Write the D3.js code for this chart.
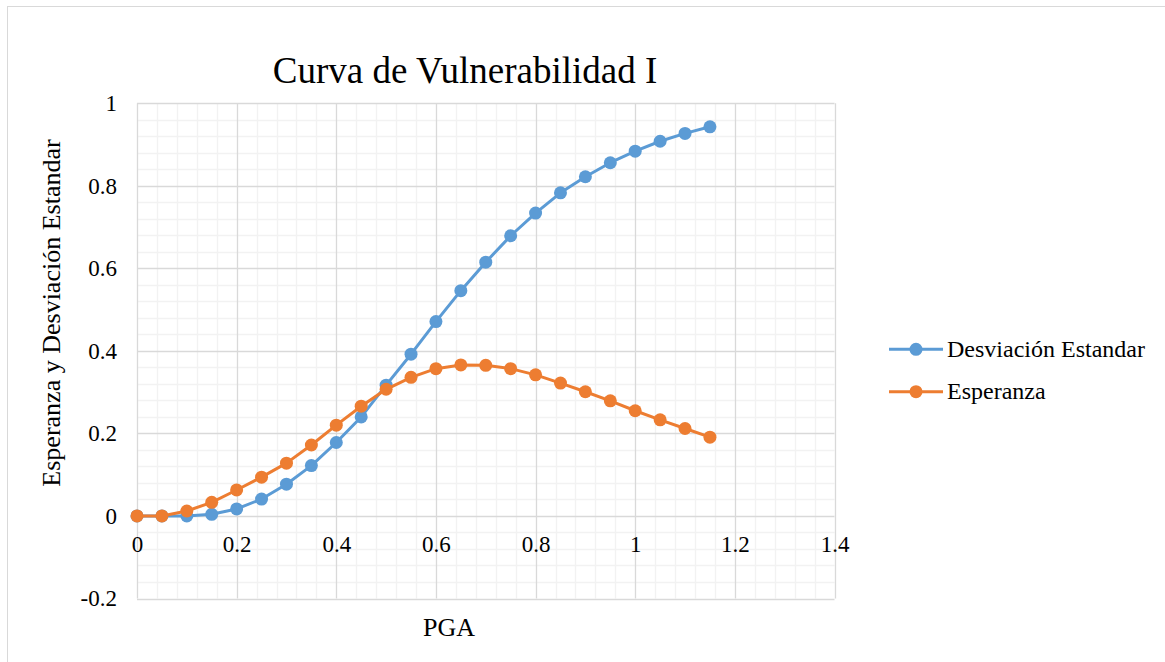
<!DOCTYPE html>
<html>
<head>
<meta charset="utf-8">
<script src="https://cdn.jsdelivr.net/npm/d3@7/dist/d3.min.js"></script>
<style>
  html, body { margin: 0; padding: 0; background: #fff; font-family: 'Liberation Serif', serif; }
  svg { display: block; }
</style>
</head>
<body>
<svg id="chart" width="1165" height="662" font-family="Liberation Serif, Times New Roman, serif"></svg>
<script>
// PGA steps (g) and the two curves computed for each step
const pga = [0, 0.05, 0.1, 0.15, 0.2, 0.25, 0.3, 0.35, 0.4, 0.45, 0.5, 0.55,
             0.6, 0.65, 0.7, 0.75, 0.8, 0.85, 0.9, 0.95, 1.0, 1.05, 1.1, 1.15];
const desviacion = [0, 0, 0.0, 0.004, 0.017, 0.041, 0.077, 0.122, 0.178, 0.240, 0.317, 0.392,
                    0.471, 0.546, 0.615, 0.679, 0.734, 0.783, 0.822, 0.856, 0.884, 0.908, 0.927, 0.943];
const esperanza = [0, 0, 0.012, 0.033, 0.063, 0.094, 0.128, 0.172, 0.220, 0.266, 0.307, 0.336,
                   0.357, 0.366, 0.365, 0.357, 0.342, 0.322, 0.301, 0.279, 0.255, 0.233, 0.212, 0.191];
const xTicks = [0, 0.2, 0.4, 0.6, 0.8, 1.0, 1.2, 1.4];
const yTicks = [-0.2, 0, 0.2, 0.4, 0.6, 0.8, 1.0];
const seriesNames = ["Desviación Estandar", "Esperanza"];
const seriesColors = ["#5B9BD5", "#ED7D31"];

const FONT = "Liberation Serif, Times New Roman, serif";

const series = [
  { name: seriesNames[0], color: seriesColors[0], values: desviacion },
  { name: seriesNames[1], color: seriesColors[1], values: esperanza }
];

const svg = d3.select("#chart");
const plot = { left: 137, right: 834.5, top: 103.3, bottom: 598.5 };

const x = d3.scaleLinear().domain([xTicks[0], xTicks[xTicks.length - 1]]).range([plot.left, plot.right]);
const y = d3.scaleLinear().domain([yTicks[0], yTicks[yTicks.length - 1]]).range([plot.bottom, plot.top]);

// chart frame
svg.append("rect")
  .attr("x", 7.5).attr("y", 6.5)
  .attr("width", 1170).attr("height", 680)
  .attr("fill", "#fff").attr("stroke", "#D9D9D9").attr("stroke-width", 1);

// minor grid: five subdivisions per major step
const minorOf = (ticks) => {
  const out = [];
  for (let i = 0; i < ticks.length - 1; i++) {
    const step = (ticks[i + 1] - ticks[i]) / 5;
    for (let k = 1; k < 5; k++) out.push(ticks[i] + k * step);
  }
  return out;
};

const grid = svg.append("g");
grid.selectAll("line.xminor").data(minorOf(xTicks)).enter().append("line")
  .attr("x1", d => Math.round(x(d)) + 0.5).attr("x2", d => Math.round(x(d)) + 0.5)
  .attr("y1", plot.top).attr("y2", plot.bottom)
  .attr("stroke", "#F2F2F2").attr("stroke-width", 1.3);
grid.selectAll("line.yminor").data(minorOf(yTicks)).enter().append("line")
  .attr("y1", d => Math.round(y(d)) + 0.5).attr("y2", d => Math.round(y(d)) + 0.5)
  .attr("x1", plot.left).attr("x2", plot.right)
  .attr("stroke", "#F2F2F2").attr("stroke-width", 1.3);
grid.selectAll("line.xmajor").data(xTicks).enter().append("line")
  .attr("x1", d => Math.round(x(d)) + 0.5).attr("x2", d => Math.round(x(d)) + 0.5)
  .attr("y1", plot.top).attr("y2", plot.bottom)
  .attr("stroke", "#D9D9D9").attr("stroke-width", 1.3);
grid.selectAll("line.ymajor").data(yTicks).enter().append("line")
  .attr("y1", d => Math.round(y(d)) + 0.5).attr("y2", d => Math.round(y(d)) + 0.5)
  .attr("x1", plot.left).attr("x2", plot.right)
  .attr("stroke", "#D9D9D9").attr("stroke-width", 1.3);

const fmt = d => String(+d.toFixed(1));

// x axis labels sit under the zero line
const xAxis = svg.append("g")
  .attr("transform", `translate(0,${y(0)})`)
  .call(d3.axisBottom(x).tickValues(xTicks).tickFormat(fmt).tickSize(0).tickPadding(20));
xAxis.attr("font-family", FONT).attr("font-size", 23);
xAxis.select(".domain").remove();
xAxis.selectAll("text").attr("fill", "#000");

const yAxis = svg.append("g")
  .attr("transform", `translate(${plot.left},0)`)
  .call(d3.axisLeft(y).tickValues(yTicks).tickFormat(fmt).tickSize(0).tickPadding(20));
yAxis.attr("font-family", FONT).attr("font-size", 23);
yAxis.select(".domain").remove();
yAxis.selectAll("text").attr("fill", "#000");

// series lines and markers
const line = d3.line().x((d, i) => x(pga[i])).y(d => y(d));
series.forEach(s => {
  const g = svg.append("g");
  g.append("path").datum(s.values)
    .attr("d", line).attr("fill", "none")
    .attr("stroke", s.color).attr("stroke-width", 3).attr("stroke-linejoin", "round");
  g.selectAll("circle").data(s.values).enter().append("circle")
    .attr("cx", (d, i) => x(pga[i])).attr("cy", d => y(d))
    .attr("r", 6.5).attr("fill", s.color);
});

// titles
svg.append("text").attr("x", 465).attr("y", 83)
  .attr("text-anchor", "middle").attr("font-family", FONT).attr("font-size", 37)
  .text("Curva de Vulnerabilidad I");
svg.append("text").attr("x", 449).attr("y", 636)
  .attr("text-anchor", "middle").attr("font-family", FONT).attr("font-size", 26).text("PGA");
svg.append("text")
  .attr("transform", "translate(60,313) rotate(-90)")
  .attr("text-anchor", "middle").attr("font-family", FONT).attr("font-size", 26)
  .text("Esperanza y Desviación Estandar");

// legend
const legend = svg.append("g");
series.forEach((s, i) => {
  const ly = 349.3 + i * 42.4;
  legend.append("line").attr("x1", 889).attr("x2", 943).attr("y1", ly).attr("y2", ly)
    .attr("stroke", s.color).attr("stroke-width", 3);
  legend.append("circle").attr("cx", 916).attr("cy", ly).attr("r", 6.5).attr("fill", s.color);
  legend.append("text").attr("x", 947).attr("y", ly + 7.5)
    .attr("font-family", FONT).attr("font-size", 24).text(s.name);
});
</script>
</body>
</html>
